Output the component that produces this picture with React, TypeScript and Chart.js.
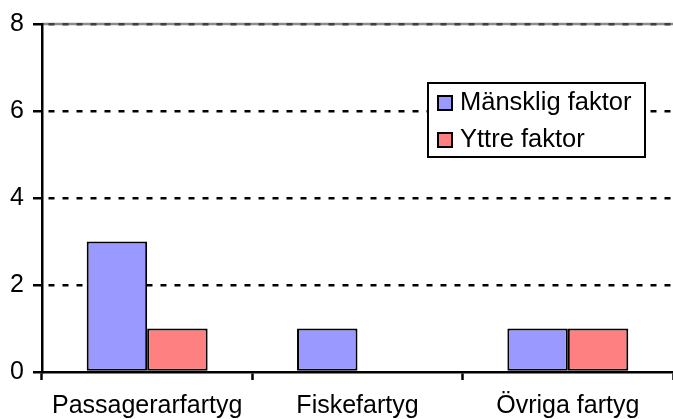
import React, { useEffect, useRef } from "react";
import { Chart, registerables } from "chart.js";

Chart.register(...registerables);

const categories = ["Passagerarfartyg", "Fiskefartyg", "Övriga fartyg"];
const seriesNames = ["Mänsklig faktor", "Yttre faktor"];
const humanFactor = [3, 1, 1];
const externalFactor = [1, 0, 1];
const seriesColors = ["#9999FF", "#FF8080"];
const yMin = 0;
const yMax = 8;
const yStep = 2;

const FONT = "'Liberation Sans', Arial, sans-serif";

const topLinePlugin = {
  id: "topLine",
  beforeDraw(chart: any) {
    const { ctx, chartArea } = chart;
    ctx.save();
    ctx.strokeStyle = "#8c8c8c";
    ctx.lineWidth = 2.5;
    ctx.beginPath();
    ctx.moveTo(chartArea.left, chartArea.top);
    ctx.lineTo(chartArea.right, chartArea.top);
    ctx.stroke();
    ctx.restore();
  },
};

const legendPlugin = {
  id: "boxLegend",
  afterDatasetsDraw(chart: any) {
    const { ctx } = chart;
    const x0 = 428, y0 = 83, w = 217, h = 74;
    ctx.save();
    ctx.fillStyle = "#ffffff";
    ctx.fillRect(x0, y0, w, h);
    ctx.strokeStyle = "#000000";
    ctx.lineWidth = 2;
    ctx.strokeRect(x0, y0, w, h);
    ctx.font = `25.5px ${FONT}`;
    ctx.textBaseline = "middle";
    ctx.textAlign = "left";
    seriesNames.forEach((name, i) => {
      const cy = 103 + i * 37;
      ctx.fillStyle = seriesColors[i];
      ctx.fillRect(438, cy - 7, 14, 14);
      ctx.strokeStyle = "#000";
      ctx.lineWidth = 2;
      ctx.strokeRect(438, cy - 7, 14, 14);
      ctx.fillStyle = "#000";
      ctx.fillText(name, 460, cy);
    });
    ctx.restore();
  },
};

export default function App() {
  const ref = useRef<HTMLCanvasElement | null>(null);
  useEffect(() => {
    if (!ref.current) return;
    const chart = new Chart(ref.current, {
      type: "bar",
      data: {
        labels: categories,
        datasets: [
          {
            label: seriesNames[0],
            data: humanFactor,
            backgroundColor: seriesColors[0],
            borderColor: "#000",
            borderWidth: 2,
            borderSkipped: false,
          },
          {
            label: seriesNames[1],
            data: externalFactor,
            backgroundColor: seriesColors[1],
            borderColor: "#000",
            borderWidth: 2,
            borderSkipped: false,
          },
        ],
      },
      options: {
        responsive: false,
        animation: false,
        layout: { padding: { top: 23, right: 0, left: 0, bottom: 0 } },
        datasets: { bar: { categoryPercentage: 0.575, barPercentage: 1 } } as any,
        plugins: {
          legend: { display: false },
          tooltip: { enabled: false },
        },
        scales: {
          x: {
            offset: true,
            grid: {
              offset: true,
              drawOnChartArea: false,
              drawTicks: true,
              tickLength: 8,
              tickColor: "#000",
              tickWidth: 2.5,
            },
            border: { display: true, color: "#000", width: 2.5 },
            ticks: {
              color: "#000",
              font: { family: FONT, size: 25 },
              padding: 11,
              maxRotation: 0,
              autoSkip: false,
            },
            afterFit(scale: any) {
              scale.height = 47;
            },
          },
          y: {
            min: yMin,
            max: yMax,
            ticks: {
              stepSize: yStep,
              color: "#000",
              font: { family: FONT, size: 25 },
              padding: 9,
            },
            grid: {
              color: (c: any) =>
                c.tick && c.tick.value === yMax
                  ? "#404040"
                  : c.tick && c.tick.value === yMin
                  ? "rgba(0,0,0,0)"
                  : "#000",
              lineWidth: 2.5,
              tickLength: 9,
              tickColor: "#000",
              tickWidth: 2.5,
              tickBorderDash: [],
            },
            border: { display: true, color: "#000", width: 2.5, dash: [6, 8], dashOffset: 9 },
            afterFit(scale: any) {
              scale.width = 42;
            },
          },
        },
      } as any,
      plugins: [topLinePlugin, legendPlugin],
    });
    return () => chart.destroy();
  }, []);
  return (
    <div style={{ position: "fixed", left: 0, top: 0, width: 673, height: 419, background: "#fff" }}>
      <canvas ref={ref} width={673} height={419} style={{ display: "block" }} />
    </div>
  );
}
